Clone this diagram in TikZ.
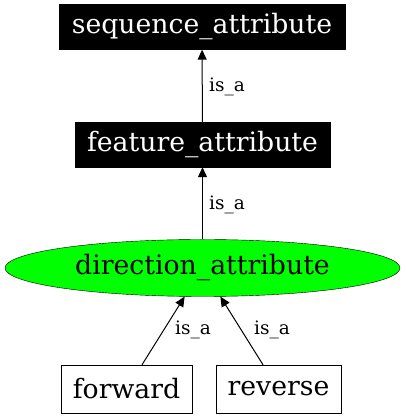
\documentclass[tikz,border=0pt]{standalone}
\usepackage{fontspec}
\setmainfont{DejaVu Serif}
\usetikzlibrary{arrows.meta,shapes.geometric}
\begin{document}
\begin{tikzpicture}[x=1pt,y=1pt,
  mainfont/.style={font=\fontsize{26.7}{30}\selectfont},
  blackbox/.style={mainfont,draw=black,fill=black,text=white,minimum height=45pt,inner sep=0pt},
  whitebox/.style={mainfont,draw=black,fill=white,minimum height=48pt,inner sep=0pt},
  greenell/.style={mainfont,ellipse,draw=black,fill=green,minimum width=395pt,minimum height=57pt,inner sep=0pt},
  edge/.style={draw=black,line width=1pt,-{Triangle[length=10pt,width=9pt]}},
  lab/.style={font=\fontsize{18.5}{22}\selectfont,inner sep=0pt}]
\useasboundingbox (0,0) rectangle (405,419);
\node[blackbox,minimum width=286pt] (seq) at (202,392) {sequence\_attribute};
\node[blackbox,minimum width=255pt] (feat) at (202.5,274.5) {feature\_attribute};
\node[greenell] (dir) at (202.5,151) {direction\_attribute};
\node[whitebox,minimum width=131pt] (fwd) at (126.5,30) {forward};
\node[whitebox,minimum width=125pt] (rev) at (278.5,30) {reverse};
\draw[edge] (feat) -- (seq);
\draw[edge] (dir) -- (feat);
\draw[edge] ([xshift=15.5pt]fwd.north) -- (dir);
\draw[edge] ([xshift=-15.5pt]rev.north) -- (dir);
\node[lab] (l1) at (227,332) {is\_a};
\node[lab] (l2) at (227,214) {is\_a};
\node[lab] (l3) at (193,89) {is\_a};
\node[lab] (l4) at (272,89) {is\_a};
\end{tikzpicture}
\end{document}
